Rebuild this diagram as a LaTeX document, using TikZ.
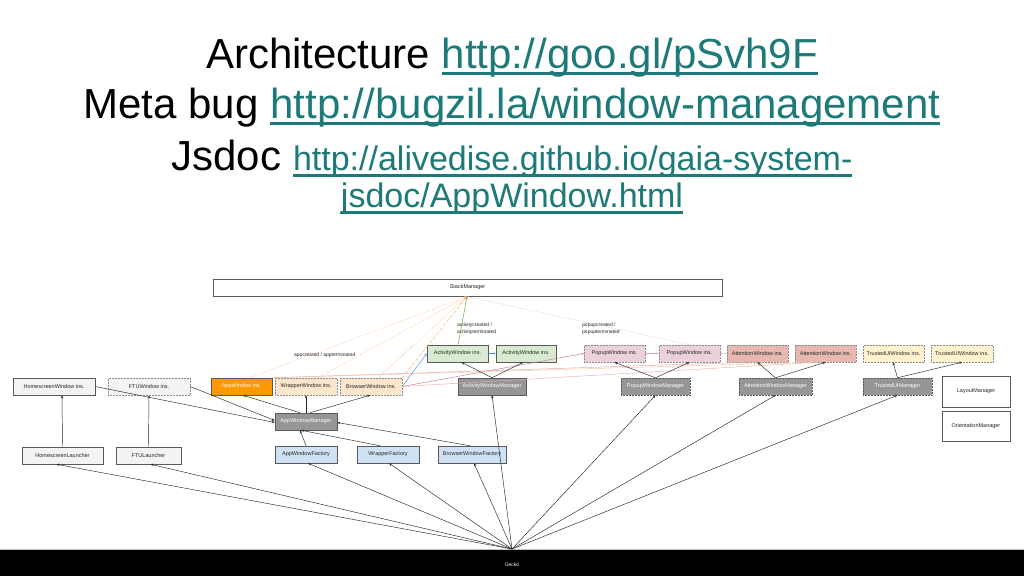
\documentclass[tikz,border=0pt]{standalone}
\usepackage{fontspec}
\setmainfont{Liberation Sans}
\usetikzlibrary{arrows.meta}
\definecolor{lnk}{RGB}{30,122,120}
\definecolor{boxline}{RGB}{90,90,90}
\definecolor{orng}{RGB}{255,153,0}
\definecolor{peach}{RGB}{252,229,205}
\definecolor{lgreen}{RGB}{217,234,211}
\definecolor{lpink}{RGB}{234,209,220}
\definecolor{salmon}{RGB}{230,184,175}
\definecolor{lyellow}{RGB}{255,242,204}
\definecolor{lblue}{RGB}{207,226,243}
\definecolor{lgrey}{RGB}{243,243,243}
\definecolor{mgrey}{RGB}{150,150,150}
\definecolor{evorange}{RGB}{246,178,107}
\definecolor{evgreen}{RGB}{106,168,79}
\definecolor{evblue}{RGB}{74,134,232}
\definecolor{evpink}{RGB}{213,166,189}
\definecolor{evpurple}{RGB}{194,123,160}
\definecolor{evsalmon}{RGB}{221,126,107}
\newcommand\lk[1]{{\color{lnk}\setbox0\hbox{#1}\rlap{\rule[-6.5pt]{\wd0}{2.6pt}}\box0}}
\begin{document}
\begin{tikzpicture}[x=1pt,y=-1pt,
  box/.style={draw=boxline, line width=0.5pt, inner sep=0pt, minimum height=17pt,
    font=\fontsize{5.5}{6}\selectfont, text=black!85},
  dotbox/.style={box, draw=black!45, densely dotted},
  mgr/.style={box, fill=mgrey, text=white},
  ttl/.style={anchor=base, inner sep=0pt, font=\fontsize{42}{48}\selectfont},
  lbl/.style={inner sep=0pt, font=\fontsize{5}{7}\selectfont, text=black!85, align=left},
  ar/.style={-{Stealth[length=3pt,width=2.4pt]}, line width=0.45pt, draw=black!85},
  ev/.style={line width=0.5pt, -{Stealth[length=2.6pt,width=2.2pt]}},
  cross/.style={line width=0.45pt, -{Stealth[length=2.4pt,width=2pt]}}
]
\useasboundingbox (0,0) rectangle (1024,576);
\fill[white] (0,0) rectangle (1024,576);

% title
\node[ttl] (t1) at (512,68) {Architecture \lk{http://goo.gl/pSvh9F}};
\node[ttl] (t2) at (512,118) {Meta bug \lk{http://bugzil.la/window-management}};
\node[ttl] (t3) at (512,170) {Jsdoc {\fontsize{34}{40}\selectfont\lk{http://alivedise.github.io/gaia-system-}}};
\node[ttl, font=\fontsize{34}{40}\selectfont] (t4) at (512,207) {\lk{jsdoc/AppWindow.html}};

% gecko bar
\fill[black] (0,549) rectangle (1024,576);
\draw[black!25, line width=0.6pt] (0,549) -- (1024,549);
\node[inner sep=0pt, text=white, font=\fontsize{5}{6}\selectfont] (gecko) at (512,565) {Gecko};
\coordinate (gk) at (512,549);

% boxes
\node[box, fill=white, minimum width=509pt] (sm) at (467.5,287.5) {StackManager};
\node[box, fill=lgrey, minimum width=82pt] (hw) at (54,386.5) {HomescreenWindow ins.};
\node[dotbox, fill=lgrey, minimum width=82pt] (ftuw) at (149,386.5) {FTUWindow ins.};
\node[box, fill=orng, text=white, minimum width=61pt] (aw) at (241.5,386.5) {AppWindow ins.};
\node[dotbox, fill=peach, minimum width=62pt] (ww) at (306,386.5) {WrapperWindow ins.};
\node[dotbox, fill=peach, minimum width=62pt] (bw) at (371,386.5) {BrowserWindow ins.};
\node[box, fill=lgreen, minimum width=61pt] (act1) at (457.5,353.5) {ActivityWindow ins.};
\node[box, fill=lgreen, minimum width=60pt] (act2) at (526,353.5) {ActivityWindow ins.};
\node[mgr, minimum width=68pt] (acm) at (492,386.5) {ActivityWindowManager};
\node[dotbox, fill=lpink, minimum width=61pt] (pop1) at (614.5,353.5) {PopupWindow ins.};
\node[dotbox, fill=lpink, minimum width=61pt] (pop2) at (689.5,353.5) {PopupWindow ins.};
\node[dotbox, fill=salmon, minimum width=61pt] (att1) at (757.5,353.5) {AttentionWindow ins.};
\node[dotbox, fill=salmon, minimum width=61pt] (att2) at (825.5,353.5) {AttentionWindow ins.};
\node[dotbox, fill=lyellow, minimum width=61pt] (tr1) at (893.5,353.5) {TrustedUIWindow ins.};
\node[dotbox, fill=lyellow, minimum width=62pt] (tr2) at (962,353.5) {TrustedUIWindow ins.};
\node[mgr, draw=black!65, densely dotted, minimum width=69pt] (pwm) at (655.5,386.5) {PopupWindowManager};
\node[mgr, draw=black!65, densely dotted, minimum width=73pt] (atm) at (775.5,386.5) {AttentionWindowManager};
\node[mgr, draw=black!65, densely dotted, minimum width=69pt] (tum) at (897.5,386.5) {TrustedUIManager};
\node[box, fill=white, minimum width=68pt, minimum height=31pt] (lm) at (976,391.5) {LayoutManager};
\node[box, fill=white, minimum width=68pt, minimum height=30pt] (om) at (976,426) {OrientationManager};
\node[mgr, minimum width=62pt] (apm) at (306,421.5) {AppWindowManager};
\node[box, fill=lgrey, minimum width=81pt] (hl) at (62.5,455.5) {HomescreenLauncher};
\node[box, fill=lgrey, minimum width=65pt] (fl) at (148.5,455.5) {FTULauncher};
\node[box, fill=lblue, minimum width=62pt] (af) at (306,454.5) {AppWindowFactory};
\node[box, fill=lblue, minimum width=62pt] (wf) at (388,454.5) {WrapperFactory};
\node[box, fill=lblue, minimum width=68pt] (bf) at (472,454.5) {BrowserWindowFactory};

% labels
\node[lbl, anchor=west] (lapp) at (294,355.5) {appcreated / appterminated};
\node[lbl, anchor=north west] (lact) at (457,323) {activitycreated /\\activityterminated};
\node[lbl, anchor=north west] (lpop) at (582,323) {popupcreated /\\popupterminated};

% event lines to StackManager
\coordinate (smp) at (467,296.5);
\draw[ev, evorange, densely dotted] ([xshift=8pt]aw.north) -- (smp);
\draw[ev, evorange, densely dotted] ([xshift=12pt]ww.north) -- (smp);
\draw[ev, evorange, densely dotted] ([xshift=7pt]bw.north) -- (smp);
\draw[ev, evorange, densely dashdotted] (bw.north east) -- (smp);
\draw[ev, evgreen] ([xshift=0.5pt]act1.north) -- (smp);
\draw[evpink, line width=0.5pt, densely dotted] (smp) -- (pop2.north);

% cross lines
\draw[cross, evpurple] (bw.east) -- (pop1.west);
\draw[cross, evpink] (aw.north east) -- ([xshift=-10pt]att1.south);
\draw[cross, evorange!70] (aw.north east) -- ([xshift=-12pt]att2.south);
\draw[cross, evsalmon!60] (bw.east) -- ([xshift=-8pt]att2.south);
\draw[cross, evblue] (bw.east) -- (act1.west);
\draw[cross, evblue] (act1) -- (act2);
\draw[cross, evpink] (pop1) -- (pop2);
\draw[cross, evpink, densely dashed] (pop2) -- (att1);
\draw[cross, evorange!60, densely dashed] (att2) -- (tr1);

% manager to instances
\draw[ar] (acm.north) -- ([xshift=4pt]act1.south);
\draw[ar] (acm.north) -- ([xshift=-3pt]act2.south);
\draw[ar] (pwm.north) -- (pop1.south);
\draw[ar] (pwm.north) -- (pop2.south);
\draw[ar] (atm.north) -- (att1.south);
\draw[ar] (atm.north) -- (att2.south);
\draw[ar] (tum.north) -- ([xshift=-0.5pt]tr1.south);
\draw[ar] (tum.north) -- (tr2.south);
\draw[ar] ([xshift=-6pt]apm.north) -- ([xshift=1.5pt]aw.south);
\draw[ar] (apm.north) -- (ww.south);
\draw[ar] ([xshift=4pt]apm.north) -- ([xshift=-1pt]bw.south);
\draw[ar] (hw.east) -- ([yshift=-1pt]apm.west);
\draw[ar] (ftuw.east) -- ([yshift=1pt]apm.west);
\draw[ar] (hl.north) -- ([xshift=8pt]hw.south);
\draw[ar] (fl.north) -- (ftuw.south);
\draw[ar] (af.north) -- ([xshift=-6pt]apm.south);
\draw[ar] ([xshift=-8pt]wf.north) -- ([xshift=-5pt]apm.south);
\draw[ar] ([xshift=-2pt]bf.north) -- ([yshift=-1pt]apm.east);

% gecko arrows
\draw[ar] (gk) -- ([xshift=-6pt]hl.south);
\draw[ar] (gk) -- ([xshift=2pt]fl.south);
\draw[ar] (gk) -- ([xshift=2pt]af.south);
\draw[ar] (gk) -- ([xshift=1pt]wf.south);
\draw[ar] (gk) -- ([xshift=2pt]bf.south);
\draw[ar] (gk) -- (acm.south);
\draw[ar] (gk) -- (pwm.south);
\draw[ar] (gk) -- (atm.south);
\draw[ar] (gk) -- (tum.south);
\end{tikzpicture}
\end{document}
